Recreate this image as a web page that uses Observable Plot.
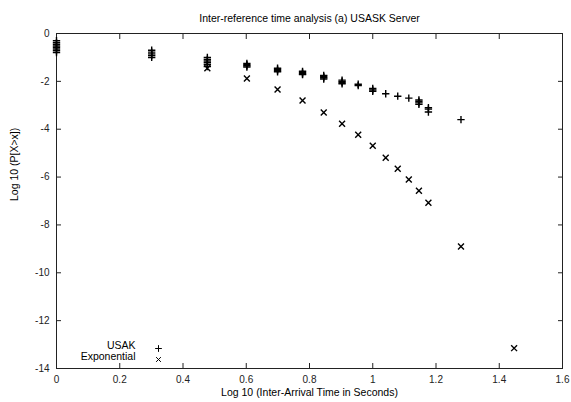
<!DOCTYPE html>
<html><head><meta charset="utf-8">
<script src="https://cdn.jsdelivr.net/npm/d3@7"></script>
<script src="https://cdn.jsdelivr.net/npm/@observablehq/plot@0.6"></script>
<style>body{margin:0;background:#fff;} svg{display:block;}</style>
</head><body><div id="chart"></div>
<script>
const titleText = "Inter-reference time analysis (a) USASK Server";
const xLabel = "Log 10 (Inter-Arrival Time in Seconds)";
const yLabel = "Log 10 (P[X>x])";
const seriesNames = ["USAK", "Exponential"];
const seriesSymbols = ["plus", "times"];
const xTicks = [0, 0.2, 0.4, 0.6, 0.8, 1, 1.2, 1.4, 1.6];
const yTicks = [0, -2, -4, -6, -8, -10, -12, -14];

const usaskX = [0,0,0,0,0,0,0,0,
  0.301,0.301,0.301,0.301,0.301,
  0.477,0.477,0.477,0.477,0.477,0.477,
  0.602,0.602,0.602,0.602,
  0.699,0.699,0.699,0.699,
  0.778,0.778,0.778,0.778,
  0.845,0.845,0.845,0.845,
  0.903,0.903,0.903,0.903,
  0.954,0.954,
  1.0,1.0,1.0,
  1.041,1.079,1.114,
  1.146,1.146,1.146,1.146,
  1.176,1.176,1.176,
  1.279];
const usaskY = [-0.30,-0.38,-0.45,-0.52,-0.58,-0.65,-0.72,-0.80,
  -0.70,-0.78,-0.85,-0.92,-1.00,
  -1.00,-1.08,-1.15,-1.22,-1.30,-1.38,
  -1.25,-1.30,-1.35,-1.40,
  -1.45,-1.50,-1.55,-1.60,
  -1.58,-1.63,-1.68,-1.72,
  -1.75,-1.80,-1.85,-1.90,
  -1.95,-2.00,-2.05,-2.10,
  -2.12,-2.18,
  -2.30,-2.36,-2.42,
  -2.52,-2.62,-2.70,
  -2.78,-2.84,-2.90,-2.96,
  -3.10,-3.16,-3.28,
  -3.60];
const expX = [0.477,0.602,0.699,0.778,0.845,0.903,0.954,1.0,1.041,1.079,1.114,1.146,1.176,1.279,1.447];
const expY = [-1.45,-1.88,-2.34,-2.80,-3.30,-3.77,-4.23,-4.69,-5.19,-5.65,-6.10,-6.57,-7.07,-8.90,-13.15];

const usask = usaskX.map((x, i) => ({x, y: usaskY[i]}));
const expo = expX.map((x, i) => ({x, y: expY[i]}));

const font = "'Liberation Sans', Arial, Helvetica, sans-serif";
const legendMarks = seriesNames.flatMap((name, i) => [
  Plot.text([name], {frameAnchor: "bottom-left", dx: 79, dy: -20 + i * 11, text: d => d, textAnchor: "end", fontSize: 10.5, fill: "#000"}),
  Plot.dot([name], {frameAnchor: "bottom-left", dx: 102, dy: -20 + i * 11, symbol: () => seriesSymbols[i], r: 2.3, stroke: "#000", strokeWidth: 1})
]);

const chart = Plot.plot({
  width: 571,
  height: 402,
  marginLeft: 56,
  marginRight: 9,
  marginTop: 33,
  marginBottom: 34,
  style: {fontFamily: font, fontSize: "10px", color: "#000", background: "#fff"},
  x: {domain: [0, 1.6], label: null},
  y: {domain: [-14, 0], label: null},
  marks: [
    Plot.axisX({anchor: "bottom", ticks: xTicks, tickSize: 0, tickPadding: 7, tickFormat: d => `${d}`, fontSize: 10, fill: "#222"}),
    Plot.axisX({anchor: "bottom", ticks: xTicks, tickSize: -5, tickFormat: () => "", stroke: "#222"}),
    Plot.axisX({anchor: "top", ticks: xTicks, tickSize: -5, tickFormat: () => "", stroke: "#222"}),
    Plot.axisY({anchor: "left", ticks: yTicks, tickSize: 0, tickPadding: 7, tickFormat: d => `${d}`, fontSize: 10, fill: "#222"}),
    Plot.axisY({anchor: "left", ticks: yTicks, tickSize: -5, tickFormat: () => "", stroke: "#222"}),
    Plot.axisY({anchor: "right", ticks: yTicks, tickSize: -5, tickFormat: () => "", stroke: "#222"}),
    Plot.frame({stroke: "#222", strokeWidth: 1}),
    Plot.dot(usask, {x: "x", y: "y", symbol: () => "plus", r: 2.5, stroke: "#000", strokeWidth: 1.4}),
    Plot.dot(expo, {x: "x", y: "y", symbol: () => "times", r: 2.8, stroke: "#000", strokeWidth: 1.4}),
    Plot.text([titleText], {frameAnchor: "top", dy: -19, text: d => d, fontSize: 10.5, fill: "#000"}),
    Plot.text([xLabel], {frameAnchor: "bottom", dy: 27, text: d => d, fontSize: 10.5, fill: "#000"}),
    Plot.text([yLabel], {frameAnchor: "left", dx: -42, rotate: -90, text: d => d, fontSize: 10.5, fill: "#000"}),
    ...legendMarks
  ]
});
document.getElementById("chart").append(chart);
</script>
</body></html>
